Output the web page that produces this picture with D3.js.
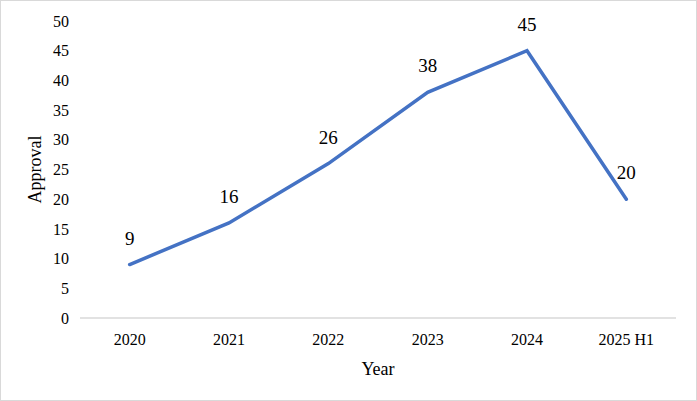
<!DOCTYPE html>
<html><head><meta charset="utf-8">
<script src="https://cdn.jsdelivr.net/npm/d3@7"></script>
<style>body{margin:0;background:#fff}svg{display:block}text{font-family:'Liberation Serif','Times New Roman',serif;fill:#000}</style>
</head><body>
<script>
const categories = ["2020","2021","2022","2023","2024","2025 H1"];
const approvals = [9,16,26,38,45,20];
const yTicks = [0,5,10,15,20,25,30,35,40,45,50];

const W=697,H=401;
const svg=d3.select("body").append("svg").attr("width",W).attr("height",H);
svg.append("rect").attr("x",0.5).attr("y",0.5).attr("width",W-1).attr("height",H-1)
  .attr("fill","#fff").attr("stroke","#d9d9d9");
const x=d3.scaleBand().domain(categories).range([80,676]);
const y=d3.scaleLinear().domain([0,50]).range([318,21]);

svg.append("g").selectAll("text").data(yTicks).join("text")
  .attr("x",69).attr("y",d=>y(d)).attr("dy","0.35em").attr("text-anchor","end")
  .attr("font-size",16).text(d=>d);

svg.append("line").attr("x1",80).attr("x2",676).attr("y1",y(0)).attr("y2",y(0))
  .attr("stroke","#d9d9d9").attr("stroke-width",1.5);

svg.append("g").selectAll("text").data(categories).join("text")
  .attr("x",d=>x(d)+x.bandwidth()/2).attr("y",345).attr("text-anchor","middle")
  .attr("font-size",16).text(d=>d);

svg.append("text").attr("x",378).attr("y",375).attr("text-anchor","middle")
  .attr("font-size",18).text("Year");
svg.append("text").attr("transform",`translate(41,${y(25)}) rotate(-90)`).attr("text-anchor","middle")
  .attr("font-size",18).text("Approval");

const line=d3.line().x((d,i)=>x(categories[i])+x.bandwidth()/2).y(d=>y(d));
svg.append("path").datum(approvals).attr("d",line).attr("fill","none")
  .attr("stroke","#4472C4").attr("stroke-width",3.5).attr("stroke-linejoin","miter").attr("stroke-linecap","round");

svg.append("g").selectAll("text").data(approvals).join("text")
  .attr("x",(d,i)=>x(categories[i])+x.bandwidth()/2).attr("y",d=>y(d)-20).attr("text-anchor","middle")
  .attr("font-size",19).text(d=>d);
</script>
</body></html>
